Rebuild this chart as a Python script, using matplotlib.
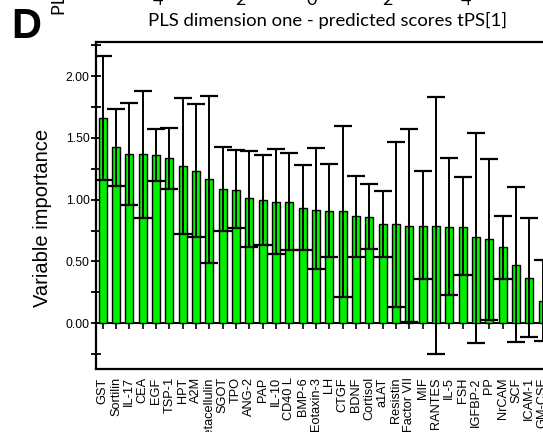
import numpy as np
import matplotlib
matplotlib.use("Agg")
import matplotlib.pyplot as plt
from matplotlib.ticker import MultipleLocator, FormatStrFormatter

# proteins ranked by PLS variable importance
names = ["GST", "Sortilin", "IL-17", "CEA", "EGF", "TSP-1", "HPT", "A2M",
         "Betacellulin", "SGOT", "TPO", "ANG-2", "PAP", "IL-10", "CD40 L",
         "BMP-6", "Eotaxin-3", "LH", "CTGF", "BDNF", "Cortisol", "a1AT",
         "Resistin", "Factor VII", "MIF", "RANTES", "IL-5", "FSH", "IGFBP-2",
         "PP", "NrCAM", "SCF", "ICAM-1", "GM-CSF"]
importance = [1.66, 1.43, 1.37, 1.37, 1.36, 1.34, 1.27, 1.23, 1.17, 1.09,
              1.08, 1.01, 1.00, 0.98, 0.98, 0.93, 0.92, 0.91, 0.91, 0.87,
              0.86, 0.80, 0.80, 0.79, 0.79, 0.79, 0.78, 0.78, 0.70, 0.68,
              0.62, 0.47, 0.37, 0.18]
ci_high = [2.16, 1.73, 1.78, 1.88, 1.57, 1.58, 1.82, 1.77, 1.84, 1.43,
           1.40, 1.39, 1.36, 1.41, 1.38, 1.28, 1.42, 1.29, 1.60, 1.19,
           1.13, 1.07, 1.47, 1.57, 1.23, 1.83, 1.34, 1.18, 1.54, 1.33,
           0.87, 1.10, 0.85, 0.51]
ci_low = [1.16, 1.11, 0.96, 0.85, 1.15, 1.09, 0.72, 0.70, 0.49, 0.75,
          0.77, 0.62, 0.63, 0.56, 0.59, 0.59, 0.44, 0.54, 0.21, 0.54,
          0.60, 0.54, 0.13, 0.01, 0.36, -0.25, 0.23, 0.39, -0.16, 0.03,
          0.36, -0.15, -0.11, -0.14]

# leftovers of the panel above (cropped)
upper_ticks = ["4", "2", "0", "2", "4"]
upper_tick_x = [158, 240, 312, 387, 466]

plt.rcParams['font.family'] = ['Liberation Sans', 'DejaVu Sans']

W, H = 543, 432
fig = plt.figure(figsize=(W / 100, H / 100), dpi=100)

x = np.arange(len(names))
imp = np.array(importance)
lo = imp - np.array(ci_low)
hi = np.array(ci_high) - imp

ymin, ymax = -0.37, 2.278
ax = fig.add_axes([96 / W, 1 - 369 / H, 466.7 / W, (369 - 41.7) / H])
ax.bar(x, imp, width=0.62, color="#00f000", edgecolor="black", linewidth=1.0, zorder=2)
ax.errorbar(x, imp, yerr=[lo, hi], fmt="none", ecolor="black", elinewidth=1.4,
            capsize=6.2, capthick=1.6, zorder=3)

ax.set_xlim(-0.5, len(names) + 0.5)
ax.set_ylim(ymin, ymax)
for s in ax.spines.values():
    s.set_linewidth(1.6)

ax.yaxis.set_major_locator(MultipleLocator(0.5))
ax.yaxis.set_minor_locator(MultipleLocator(0.25))
ax.yaxis.set_major_formatter(FormatStrFormatter("%.2f"))
ax.tick_params(axis="y", which="both", direction="inout", length=7, width=1.3,
               labelsize=8.7, pad=1)
ax.set_xticks(x)
ax.set_xticklabels(names, rotation=90, fontsize=9.2)
ax.tick_params(axis="x", length=0, pad=6)

# category axis drawn at zero
zero = ax.secondary_xaxis((0 - ymin) / (ymax - ymin))
zero.set_xticks(x)
zero.set_xticklabels([])
zero.tick_params(direction="out", length=4, width=1.2)
zero.spines["bottom"].set_linewidth(1.4)

fig.text(43 / W, 1 - 218 / H, "Variable importance", rotation=90,
         ha="center", va="center", fontsize=14.5)

# panel letter and the cropped bits of the chart above
fig.text(11 / W, 1 - 27 / H, "D", fontsize=30, fontweight="bold", va="center")
fig.text(327 / W, 1 - 20 / H, "PLS dimension one - predicted scores tPS[1]",
         ha="center", va="center", fontsize=13.3, family=["Lato", "DejaVu Sans"])
for lab, px in zip(upper_ticks, upper_tick_x):
    fig.text(px / W, 1 - 5 / H, lab, ha="center", va="baseline", fontsize=13,
             family=["Lato", "DejaVu Sans"])
fig.text(60 / W, 1 - 15 / H, "PLS dimension two", rotation=90, ha="center",
         va="bottom", fontsize=13, family=["Lato", "DejaVu Sans"])

fig.savefig("out.png", dpi=100)
